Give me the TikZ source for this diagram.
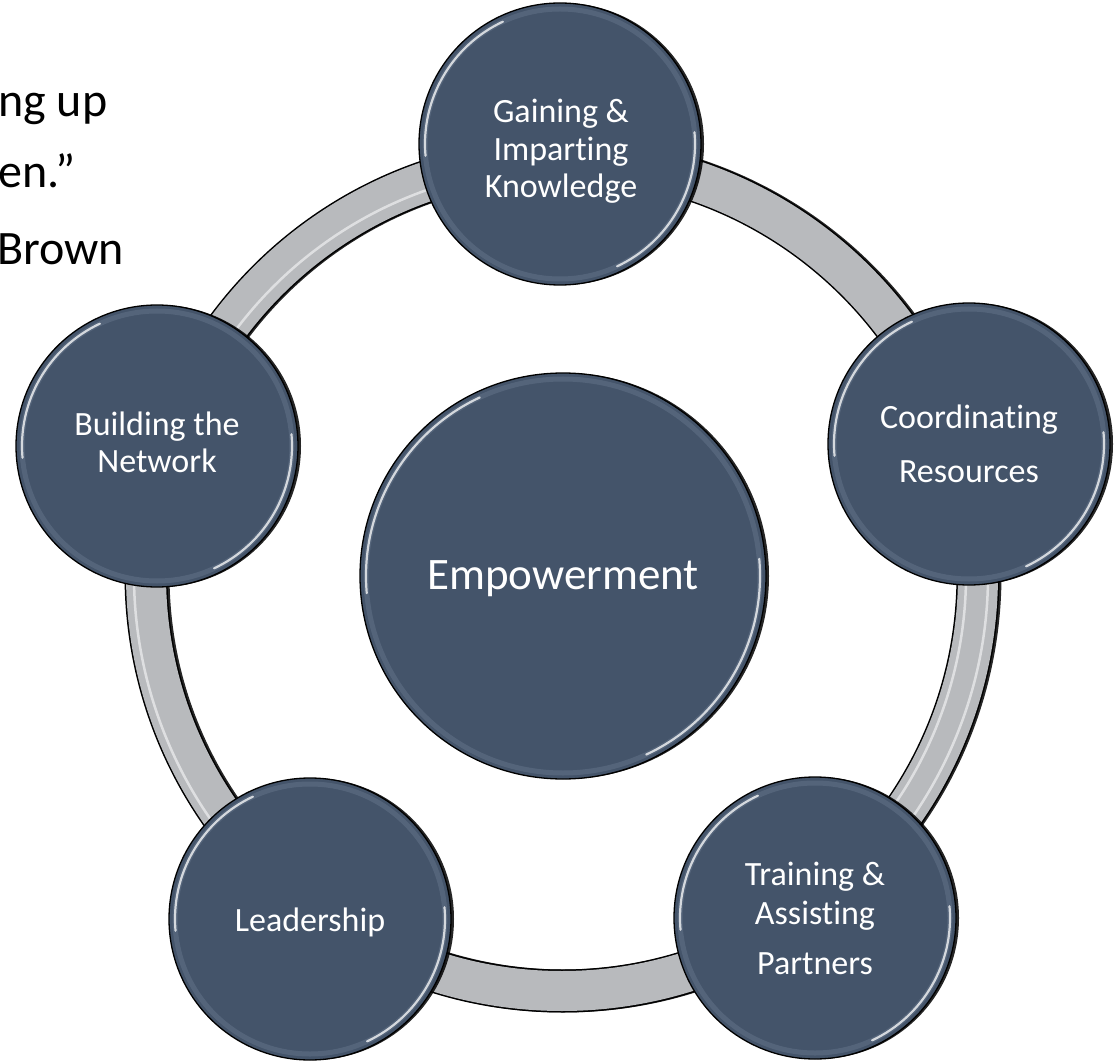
\documentclass[tikz,border=0pt]{standalone}
\usepackage{fontspec}
\setmainfont{Carlito}[Ligatures={NoCommon,NoContextual,NoRequired}, RawFeature={-liga;-clig;-calt;-rlig;-dlig}]
\usetikzlibrary{shadows}
\definecolor{slate}{HTML}{44546A}
\definecolor{ringgray}{HTML}{B8BABD}
\definecolor{bevelc}{HTML}{5C6C82}
\tikzset{
  bubble/.style={circle, draw=black, line width=1.3pt, fill=slate, minimum size=282pt,
    inner sep=0pt,
    drop shadow={shadow xshift=3pt, shadow yshift=0pt, opacity=0.85, fill=black}},
  hub/.style={bubble, minimum size=406pt},
  lbl/.style={inner sep=0pt, text=white, align=center, font=\fontsize{34}{37.5}\selectfont},
  biglbl/.style={lbl, font=\fontsize{45}{50}\selectfont},
  bevel/.style={draw=bevelc, line width=5pt, opacity=0.7},
  glare/.style={draw=white, line width=2.2pt, opacity=0.75, line cap=round},
  streak/.style={draw=white, line width=2.5pt, opacity=0.55},
  quote/.style={anchor=base west, inner sep=0pt, text=black, font=\fontsize{48}{52}\selectfont}
}
\newcommand\rimglint[2]{%
  \draw[bevel] (#1.center) circle (#2);
  \draw[glare] (#1.center) ++(175:#2) arc[start angle=175, end angle=245, radius=#2];
  \draw[glare] (#1.center) ++(-5:#2) arc[start angle=-5, end angle=65, radius=#2];
}
\begin{document}
\begin{tikzpicture}[x=1pt, y=-1pt]
\useasboundingbox (0,0) rectangle (1114,1064);
\clip (0,0) rectangle (1114,1064);

% quote fragments
\node[quote] (q1) at (-2,117) {ng up};
\node[quote] (q2) at (-2,188) {en.”};
\node[quote] (q3) at (-3,265) {Brown};

% ring
\coordinate (c) at (562,575);
\draw[black!85, line width=43pt] ([xshift=2]c) circle (416);
\draw[black, line width=43pt] (c) circle (416);
\draw[ringgray, line width=40pt] (c) circle (416);
\draw[streak] (c) ++(198:408) arc[start angle=198, end angle=270, radius=408];
\draw[streak] (c) ++(126:428) arc[start angle=126, end angle=198, radius=428];
\draw[streak] (c) ++(-18:404) arc[start angle=-18, end angle=54, radius=404];
\draw[streak] (c) ++(-18:426) arc[start angle=-18, end angle=54, radius=426];

% circles
\node[hub] (emp) at (563,576) {};
\node[bubble] (gain) at (560,144) {};
\node[bubble] (coord) at (969,444) {};
\node[bubble] (train) at (815,918) {};
\node[bubble] (lead) at (310,919) {};
\node[bubble] (build) at (157,446) {};

\rimglint{emp}{197}
\rimglint{gain}{135}
\rimglint{coord}{135}
\rimglint{train}{135}
\rimglint{lead}{135}
\rimglint{build}{135}

% labels
\node[biglbl] (empt) at (563,579) {Empowerment};
\node[lbl] (gaint) at (561,151.5) {Gaining \&\\Impart\kern0pt ing\\Knowledge};
\node[lbl] (coordt) at (969,444) {Coordinat\kern0pt ing\\[17pt]Resources};
\node[lbl] (traint) at (815,918) {Training \&\\[2pt]Assist\kern0pt ing\\[12pt]Partners};
\node[lbl] (leadt) at (310,922) {Leadership};
\node[lbl] (buildt) at (157,442.5) {Building the\\Network};
\end{tikzpicture}
\end{document}
